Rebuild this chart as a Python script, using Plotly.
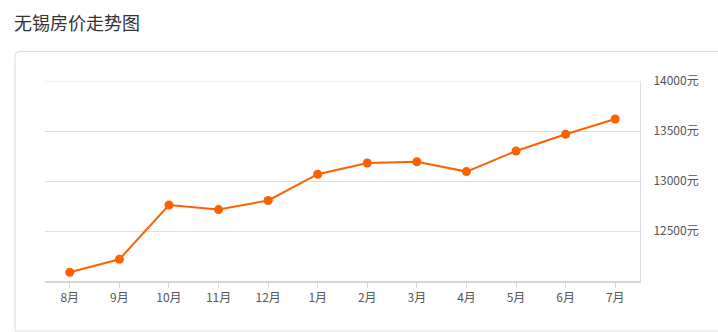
import plotly.graph_objects as go

months = ["8月", "9月", "10月", "11月", "12月", "1月", "2月", "3月", "4月", "5月", "6月", "7月"]
prices = [12087, 12217, 12760, 12714, 12805, 13068, 13180, 13192, 13094, 13300, 13468, 13620]
ytick_vals = [12500, 13000, 13500, 14000]
ytick_text = [f"{v}元" for v in ytick_vals]
title_text = "无锡房价走势图"

W, H = 718, 332
L, R, T, B = 45, 78, 81, 51
pw, ph = W - L - R, H - T - B

def px_x(x):
    return (x - L) / pw

def px_y(y):
    return (H - B - y) / ph

font_family = "Noto Sans CJK SC, Noto Sans, sans-serif"

fig = go.Figure()
fig.add_trace(go.Scatter(
    x=months, y=prices, mode="lines+markers",
    line=dict(color="#ff6000", width=2),
    marker=dict(color="#ff6000", size=9),
    hoverinfo="x+y",
))

# card outline with rounded corners (pixel coords converted to paper)
x0, x1, y0, y1, r = 15, 730, 51.5, 331, 5
path = (
    f"M {px_x(x0)},{px_y(y1)} "
    f"L {px_x(x0)},{px_y(y0 + r)} "
    f"Q {px_x(x0)},{px_y(y0)} {px_x(x0 + r)},{px_y(y0)} "
    f"L {px_x(x1)},{px_y(y0)} "
    f"L {px_x(x1)},{px_y(y1)} Z"
)
fig.add_shape(type="path", path=path, xref="paper", yref="paper",
              line=dict(color="#dcdcdc", width=1), fillcolor="rgba(0,0,0,0)", layer="below")

# top gridline (at the range edge, hidden by plotly otherwise)
fig.add_shape(type="line", xref="paper", yref="y", x0=0, x1=1,
              y0=ytick_vals[-1], y1=ytick_vals[-1],
              line=dict(color="#dedede", width=1), layer="below")

fig.update_layout(
    width=W, height=H,
    margin=dict(l=L, r=R, t=T, b=B, pad=0),
    paper_bgcolor="white", plot_bgcolor="white",
    showlegend=False,
    font=dict(family=font_family, color="#666666", size=12),
    annotations=[dict(
        text=title_text, xref="paper", yref="paper",
        x=px_x(12), y=px_y(22), xanchor="left", yanchor="middle",
        showarrow=False, font=dict(size=18, color="#333333", family=font_family),
    )],
    xaxis=dict(
        type="category", range=[-0.5, len(months) - 0.5],
        showgrid=False, showline=True, linecolor="#d6d6d6", linewidth=2,
        ticks="outside", ticklen=5, tickcolor="#d6d6d6", tickwidth=1,
        tickfont=dict(size=12, color="#555555"), zeroline=False, fixedrange=True,
    ),
    yaxis=dict(
        side="right", range=[12000, 14000],
        tickvals=ytick_vals, ticktext=ytick_text,
        showgrid=True, gridcolor="#dedede", gridwidth=1,
        showline=True, linecolor="#dedede", linewidth=1,
        ticks="", ticklabelstandoff=10,
        tickfont=dict(size=12, color="#555555"), zeroline=False, fixedrange=True,
    ),
)

fig.write_html("out.html")
